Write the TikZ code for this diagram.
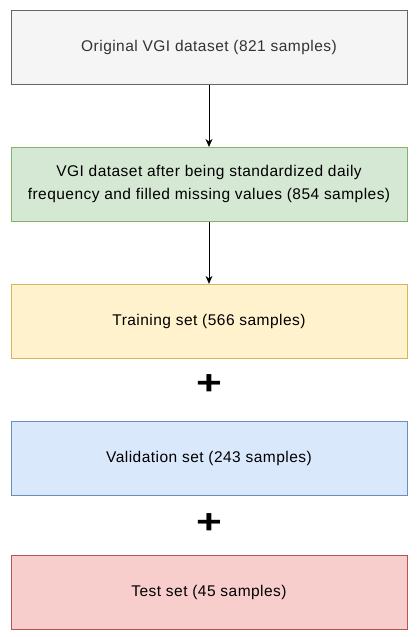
\documentclass[tikz,border=0pt]{standalone}
\usepackage{fontspec}
\setmainfont[LetterSpace=3]{Liberation Sans}
\usetikzlibrary{positioning,arrows.meta,calc}
\definecolor{grayfill}{HTML}{F5F5F5}
\definecolor{graydraw}{HTML}{666666}
\definecolor{greenfill}{HTML}{D5E8D4}
\definecolor{greendraw}{HTML}{82B366}
\definecolor{yellowfill}{HTML}{FFF2CC}
\definecolor{yellowdraw}{HTML}{D6B656}
\definecolor{bluefill}{HTML}{DAE8FC}
\definecolor{bluedraw}{HTML}{6C8EBF}
\definecolor{redfill}{HTML}{F8CECC}
\definecolor{reddraw}{HTML}{B85450}
\tikzset{set box/.style={rectangle,draw,line width=0.9pt,minimum width=396pt,minimum height=74pt,inner sep=0pt,align=center,font=\fontsize{15.5}{23}\selectfont},
	plus sign/.style={inner sep=0pt,font=\fontsize{34}{34}\selectfont\bfseries},}

\begin{document}
\begin{tikzpicture}[x=1pt,y=1pt]
			\useasboundingbox (0,0) rectangle (417,-637);

			\node[set box, fill=grayfill, draw=graydraw, text=black!80] (orig) at (209,-47.5) {Original VGI dataset (821 samples)};
			\node[set box, fill=greenfill, draw=greendraw, below=62pt of orig] (std) {VGI dataset after being standardized daily\\frequency and filled missing values (854 samples)};
			\node[set box, fill=yellowfill, draw=yellowdraw, below=62pt of std] (train) {Training set (566 samples)};
			\node[set box, fill=bluefill, draw=bluedraw, below=62pt of train] (valid) {Validation set (243 samples)};
			\node[set box, fill=redfill, draw=reddraw, below=59pt of valid] (test) {Test set (45 samples)};

			\node[plus sign] (p1) at ($(train.south)!0.42!(valid.north)$) {\scalebox{1.3}[1]{+}};
			\node[plus sign] (p2) at ($(valid.south)!0.47!(test.north)$) {\scalebox{1.3}[1]{+}};

			\path[draw, line width=0.9pt, -{Stealth[length=8pt,width=7pt]}]
				(orig) edge (std)
				(std) edge (train);
		\end{tikzpicture}
\end{document}
